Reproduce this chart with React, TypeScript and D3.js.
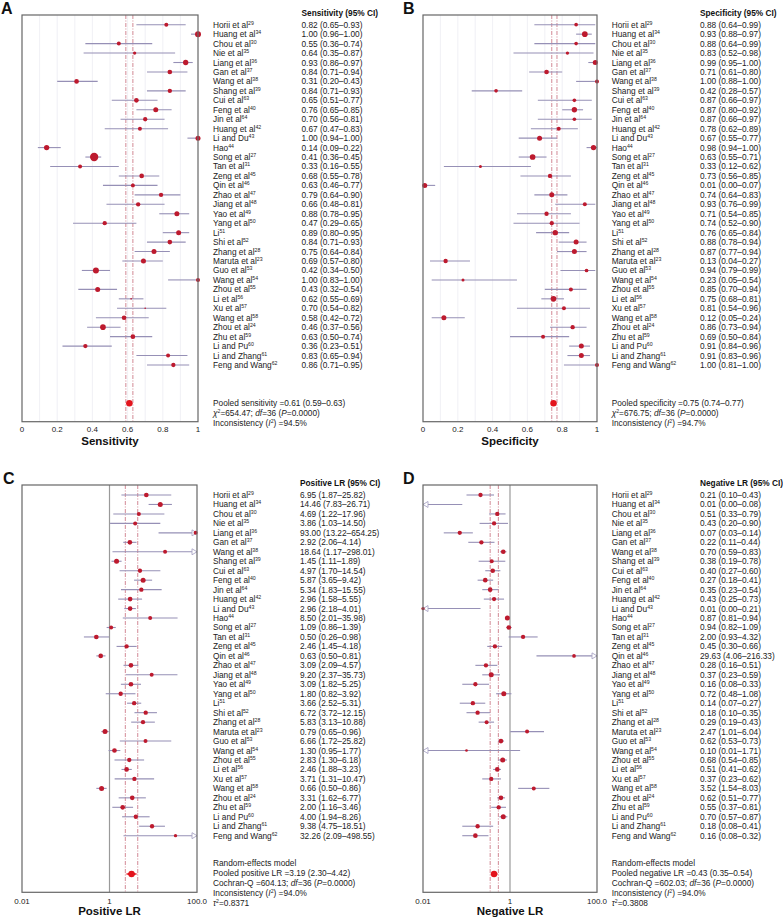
import React from 'react';
import * as d3 from 'd3';

const FONT = "'Liberation Sans', Arial, Helvetica, sans-serif";

const studies = [
  'Horii et al', 'Huang et al', 'Chou et al', 'Nie et al', 'Liang et al', 'Gan et al', 'Wang et al',
  'Shang et al', 'Cui et al', 'Feng et al', 'Jin et al', 'Huang et al', 'Li and Du', 'Hao', 'Song et al',
  'Tan et al', 'Zeng et al', 'Qin et al', 'Zhao et al', 'Jiang et al', 'Yao et al', 'Yang et al', 'Li',
  'Shi et al', 'Zhang et al', 'Maruta et al', 'Guo et al', 'Wang et al', 'Zhou et al', 'Li et al', 'Xu et al',
  'Wang et al', 'Zhou et al', 'Zhu et al', 'Li and Pu', 'Li and Zhang', 'Feng and Wang',
];
const refs = [
  '29', '34', '30', '35', '36', '37', '38', '39', '63', '40', '64', '42', '43', '44', '27', '31', '45', '46',
  '47', '48', '49', '50', '51', '52', '28', '23', '53', '54', '55', '56', '57', '58', '24', '59', '60', '61', '62',
];

// Sensitivity
const sensEst = [0.82, 1.0, 0.55, 0.64, 0.93, 0.84, 0.31, 0.84, 0.65, 0.76, 0.70, 0.67, 1.0, 0.14, 0.41, 0.33, 0.68, 0.63, 0.79, 0.66, 0.88, 0.47, 0.89, 0.84, 0.75, 0.69, 0.42, 1.0, 0.43, 0.62, 0.70, 0.58, 0.46, 0.63, 0.36, 0.83, 0.86];
const sensLo = [0.65, 0.96, 0.36, 0.35, 0.86, 0.71, 0.20, 0.71, 0.51, 0.65, 0.56, 0.47, 0.94, 0.09, 0.36, 0.16, 0.55, 0.46, 0.64, 0.48, 0.78, 0.29, 0.80, 0.71, 0.64, 0.57, 0.34, 0.83, 0.32, 0.55, 0.54, 0.42, 0.37, 0.50, 0.23, 0.65, 0.71];
const sensHi = [0.93, 1.0, 0.74, 0.87, 0.97, 0.94, 0.43, 0.93, 0.77, 0.85, 0.81, 0.83, 1.0, 0.22, 0.45, 0.55, 0.78, 0.77, 0.90, 0.81, 0.95, 0.65, 0.95, 0.93, 0.84, 0.80, 0.50, 1.0, 0.54, 0.69, 0.82, 0.72, 0.56, 0.74, 0.51, 0.94, 0.95];
const sensWeight = [12, 18, 12, 10, 16, 14, 14, 13, 14, 15, 13, 12, 15, 16, 25, 12, 14, 12, 13, 13, 15, 13, 15, 14, 15, 15, 18, 12, 15, 5, 5, 14, 17, 14, 13, 12, 13];
const sensPooled = [0.61, 0.59, 0.63];

// Specificity
const specEst = [0.88, 0.93, 0.88, 0.83, 0.99, 0.71, 1.0, 0.42, 0.87, 0.87, 0.87, 0.78, 0.67, 0.98, 0.63, 0.33, 0.73, 0.01, 0.74, 0.93, 0.71, 0.74, 0.76, 0.88, 0.87, 0.13, 0.94, 0.23, 0.85, 0.75, 0.81, 0.12, 0.86, 0.69, 0.91, 0.91, 1.0];
const specLo = [0.64, 0.88, 0.64, 0.52, 0.95, 0.61, 0.88, 0.28, 0.66, 0.80, 0.66, 0.62, 0.55, 0.94, 0.55, 0.12, 0.56, 0.0, 0.64, 0.76, 0.54, 0.52, 0.65, 0.78, 0.77, 0.04, 0.79, 0.05, 0.70, 0.68, 0.54, 0.05, 0.73, 0.50, 0.84, 0.83, 0.81];
const specHi = [0.99, 0.97, 0.99, 0.98, 1.0, 0.80, 1.0, 0.57, 0.97, 0.92, 0.97, 0.89, 0.77, 1.0, 0.71, 0.62, 0.85, 0.07, 0.83, 0.99, 0.85, 0.90, 0.84, 0.94, 0.94, 0.27, 0.99, 0.54, 0.94, 0.81, 0.96, 0.24, 0.94, 0.84, 0.96, 0.96, 1.0];
const specWeight = [11, 17, 11, 10, 15, 14, 12, 11, 11, 16, 11, 12, 15, 16, 17, 9, 13, 15, 15, 12, 13, 13, 16, 15, 15, 13, 11, 9, 12, 17, 12, 15, 13, 12, 15, 15, 12];
const specPooled = [0.75, 0.74, 0.77];

// Positive LR
const plrEst = [6.95, 14.46, 4.69, 3.86, 93.0, 2.92, 18.64, 1.45, 4.97, 5.87, 5.34, 2.96, 2.96, 8.5, 1.09, 0.5, 2.46, 0.63, 3.09, 9.2, 3.09, 1.8, 3.66, 6.72, 5.83, 0.79, 6.66, 1.3, 2.83, 2.46, 3.71, 0.66, 3.31, 2.0, 4.0, 9.38, 32.26];
const plrLo = [1.87, 7.83, 1.22, 1.03, 13.22, 2.06, 1.17, 1.11, 1.7, 3.65, 1.83, 1.58, 2.18, 2.01, 0.86, 0.26, 1.45, 0.5, 2.09, 2.37, 1.82, 0.82, 2.52, 3.72, 3.13, 0.65, 1.72, 0.95, 1.3, 1.88, 1.31, 0.5, 1.62, 1.16, 1.94, 4.75, 2.09];
const plrHi = [25.82, 26.71, 17.96, 14.5, 654.25, 4.14, 298.01, 1.89, 14.54, 9.42, 15.55, 5.55, 4.01, 35.98, 1.39, 0.98, 4.18, 0.81, 4.57, 35.73, 5.25, 3.92, 5.31, 12.15, 10.88, 0.96, 25.82, 1.77, 6.18, 3.23, 10.47, 0.86, 6.77, 3.46, 8.26, 18.51, 498.55];
const plrWeight = [14, 15, 12, 12, 12, 14, 12, 15, 13, 15, 13, 14, 14, 12, 12, 14, 13, 14, 14, 12, 14, 13, 13, 13, 13, 15, 12, 14, 13, 14, 13, 15, 14, 14, 13, 13, 10];
const plrPooled = [3.19, 2.3, 4.42];

// Negative LR
const nlrEst = [0.21, 0.01, 0.51, 0.43, 0.07, 0.22, 0.7, 0.38, 0.4, 0.27, 0.35, 0.43, 0.01, 0.87, 0.94, 2.0, 0.45, 29.63, 0.28, 0.37, 0.16, 0.72, 0.14, 0.18, 0.29, 2.47, 0.62, 0.1, 0.68, 0.51, 0.37, 3.52, 0.62, 0.55, 0.7, 0.18, 0.16];
const nlrLo = [0.1, 0.0, 0.33, 0.2, 0.03, 0.11, 0.59, 0.19, 0.27, 0.18, 0.23, 0.25, 0.0, 0.81, 0.82, 0.93, 0.3, 4.06, 0.16, 0.23, 0.08, 0.48, 0.07, 0.1, 0.19, 1.01, 0.53, 0.01, 0.54, 0.41, 0.23, 1.54, 0.51, 0.37, 0.57, 0.08, 0.08];
const nlrHi = [0.43, 0.08, 0.79, 0.9, 0.14, 0.44, 0.83, 0.78, 0.6, 0.41, 0.54, 0.73, 0.21, 0.94, 1.09, 4.32, 0.66, 216.33, 0.51, 0.59, 0.33, 1.08, 0.27, 0.35, 0.43, 6.04, 0.73, 1.71, 0.85, 0.62, 0.62, 8.03, 0.77, 0.81, 0.87, 0.41, 0.32];
const nlrWeight = [13, 0, 13, 13, 13, 13, 14, 12, 14, 14, 14, 13, 10, 15, 14, 13, 13, 11, 13, 15, 13, 15, 13, 13, 12, 12, 14, 8, 15, 14, 13, 12, 14, 13, 15, 13, 14];
const nlrPooled = [0.43, 0.35, 0.54];

const linTicks = [0, 0.2, 0.4, 0.6, 0.8, 1];
const linTickLabels = ['0', '0.2', '0.4', '0.6', '0.8', '1'];
const gridVals = [0.1, 0.2, 0.3, 0.4, 0.5, 0.6, 0.7, 0.8, 0.9];
const logTicks = [0.01, 1, 100];
const logTickLabels = ['0.01', '1', '100.0'];

type Seg = [string, string?];

const sensFooter: Seg[][] = [
  [['Pooled sensitivity =0.61 (0.59–0.63)']],
  [['χ', 'i'], ['2', 's'], ['=654.47; '], ['df', 'i'], ['=36 ('], ['P', 'i'], ['=0.0000)']],
  [['Inconsistency ('], ['I', 'i'], ['2', 's'], [') =94.5%']],
];
const specFooter: Seg[][] = [
  [['Pooled specificity =0.75 (0.74–0.77)']],
  [['χ', 'i'], ['2', 's'], ['=676.75; '], ['df', 'i'], ['=36 ('], ['P', 'i'], ['=0.0000)']],
  [['Inconsistency ('], ['I', 'i'], ['2', 's'], [') =94.7%']],
];
const plrFooter: Seg[][] = [
  [['Random-effects model']],
  [['Pooled positive LR =3.19 (2.30–4.42)']],
  [['Cochran-Q =604.13; '], ['df', 'i'], ['=36 ('], ['P', 'i'], ['=0.0000)']],
  [['Inconsistency ('], ['I', 'i'], ['2', 's'], [') =94.0%']],
  [['τ', 'i'], ['2', 's'], ['=0.8371']],
];
const nlrFooter: Seg[][] = [
  [['Random-effects model']],
  [['Pooled negative LR =0.43 (0.35–0.54)']],
  [['Cochran-Q =602.03; '], ['df', 'i'], ['=36 ('], ['P', 'i'], ['=0.0000)']],
  [['Inconsistency ('], ['I', 'i'], ['2', 's'], [') =94.0%']],
  [['τ', 'i'], ['2', 's'], ['=0.3808']],
];

const FS = 8.3;

function Rich({ x, y, segs, size = FS }: { x: number; y: number; segs: Seg[]; size?: number }) {
  let shifted = false;
  const parts = segs.map(([t, s], i) => {
    if (s === 's') {
      shifted = true;
      return <tspan key={i} dy={-3} fontSize={size * 0.62}>{t}</tspan>;
    }
    const dy = shifted ? 3 : undefined;
    shifted = false;
    return <tspan key={i} dy={dy} fontStyle={s === 'i' ? 'italic' : undefined}>{t}</tspan>;
  });
  return <text x={x} y={y} fontSize={size} fill="#222">{parts}</text>;
}

type PanelProps = {
  letter: string; letterX: number; letterY: number;
  x0: number; x1: number; y0: number; y1: number;
  rowY0: number; rowY1: number; pooledY: number;
  log: boolean;
  est: number[]; lo: number[]; hi: number[]; weight: number[]; pooled: number[];
  header: string; axisLabel: string;
  nameX: number; valX: number;
  footer: Seg[][]; footerY0: number;
  tickY: number; labelY: number;
};

function Panel(p: PanelProps) {
  const x = p.log
    ? d3.scaleLog().domain([0.01, 100]).range([p.x0, p.x1])
    : d3.scaleLinear().domain([0, 1]).range([p.x0, p.x1]);
  const X = (v: number) => (p.log ? x(Math.max(0.01, Math.min(100, v))) : x(v));
  const y = d3.scaleLinear().domain([0, studies.length - 1]).range([p.rowY0, p.rowY1]);
  const r = d3.scaleLinear().domain([0, 30]).range([0, 5]);
  const fmt = d3.format('.2f');
  const ticks = p.log ? logTicks : linTicks;
  const tickLabels = p.log ? logTickLabels : linTickLabels;
  const lineCol = '#9690b6';
  const arrowCol = '#aaa6c6';
  const dotCol = '#bd1a2e';
  const [pe, pl, ph] = p.pooled;
  const dashCol = '#cd7c89';
  return (
    <g>
      <text x={p.letterX} y={p.letterY} fontSize={16} fontWeight="bold" fill="#111">{p.letter}</text>
      {!p.log && gridVals.map((g, i) => (
        <line key={i} x1={x(g)} x2={x(g)} y1={p.y0} y2={p.y1} stroke="#ececf3" strokeWidth={0.8} />
      ))}
      {p.log && <line x1={x(1)} x2={x(1)} y1={p.y0} y2={p.y1} stroke="#9a9a9a" strokeWidth={1.2} />}
      {[pl, ph].map((v, i) => (
        <line key={i} x1={X(v)} x2={X(v)} y1={p.y0} y2={p.y1} stroke={dashCol} strokeWidth={0.9} strokeDasharray="4,1.5,1,1.5" />
      ))}
      {studies.map((s, i) => {
        const yy = y(i);
        const leftArrow = p.log && p.lo[i] <= 0.01;
        const rightArrow = p.log && p.hi[i] >= 100;
        const xl = X(p.lo[i]);
        const xh = X(p.hi[i]);
        return (
          <g key={i}>
            <line x1={xl} x2={xh} y1={yy} y2={yy} stroke={lineCol} strokeWidth={1.1} />
            {leftArrow && (
              <path d={`M${xl + 5},${yy - 3} L${xl},${yy} L${xl + 5},${yy + 3} Z`} fill="#fff" stroke={arrowCol} strokeWidth={0.9} />
            )}
            {rightArrow && (
              <path d={`M${xh - 5},${yy - 3} L${xh},${yy} L${xh - 5},${yy + 3} Z`} fill="#fff" stroke={arrowCol} strokeWidth={0.9} />
            )}
            {p.weight[i] > 0 && <circle cx={X(p.est[i])} cy={yy} r={r(p.weight[i])} fill={dotCol} />}
          </g>
        );
      })}
      <path d={`M${X(pl)},${p.pooledY} L${X(pe)},${p.pooledY - 2} L${X(ph)},${p.pooledY} L${X(pe)},${p.pooledY + 2} Z`} fill="#e3141d" />
      <circle cx={X(pe)} cy={p.pooledY} r={3.2} fill="#e3141d" />
      <rect x={p.x0} y={p.y0} width={p.x1 - p.x0} height={p.y1 - p.y0} fill="none" stroke="#666" strokeWidth={1.2} />
      {ticks.map((t, i) => (
        <text key={i} x={x(t)} y={p.tickY} fontSize={8} textAnchor="middle" fill="#222">{tickLabels[i]}</text>
      ))}
      <text x={(p.x0 + p.x1) / 2} y={p.labelY} fontSize={11.5} fontWeight="bold" textAnchor="middle" fill="#111">{p.axisLabel}</text>
      <text x={p.valX} y={p.rowY0 - 9} fontSize={FS} fontWeight="bold" fill="#111">{p.header}</text>
      {studies.map((s, i) => (
        <g key={i}>
          <text x={p.nameX} y={y(i) + 3} fontSize={FS} fill="#222">
            {s}
            <tspan dy={-3} fontSize={5.2}>{refs[i]}</tspan>
          </text>
          <text x={p.valX} y={y(i) + 3} fontSize={FS} fill="#222">
            {`${fmt(p.est[i])} (${fmt(p.lo[i])}–${fmt(p.hi[i])})`}
          </text>
        </g>
      ))}
      {p.footer.map((segs, i) => (
        <Rich key={i} x={p.nameX} y={p.footerY0 + i * 10 + 3} segs={segs} />
      ))}
    </g>
  );
}

export default function App() {
  const topY = { y0: 15, y1: 421.7, rowY0: 24.7, rowY1: 365, pooledY: 403.3, tickY: 432, labelY: 445 };
  const botY = { y0: 485, y1: 892.3, rowY0: 495, rowY1: 835.7, pooledY: 874, tickY: 903.5, labelY: 915 };
  return (
    <svg width={783} height={918} style={{ position: 'absolute', left: 0, top: 0, fontFamily: FONT, background: '#fff' }}>
      <rect x={0} y={0} width={783} height={918} fill="#fff" />
      <Panel letter="A" letterX={1} letterY={14} x0={22} x1={198} {...topY} log={false}
        est={sensEst} lo={sensLo} hi={sensHi} weight={sensWeight} pooled={sensPooled}
        header="Sensitivity (95% CI)" axisLabel="Sensitivity" nameX={213} valX={301.5}
        footer={sensFooter} footerY0={topY.pooledY} />
      <Panel letter="B" letterX={403} letterY={14} x0={423} x1={597} {...topY} log={false}
        est={specEst} lo={specLo} hi={specHi} weight={specWeight} pooled={specPooled}
        header="Specificity (95% CI)" axisLabel="Specificity" nameX={611.7} valX={700}
        footer={specFooter} footerY0={topY.pooledY} />
      <Panel letter="C" letterX={3} letterY={483.5} x0={22} x1={197} {...botY} log={true}
        est={plrEst} lo={plrLo} hi={plrHi} weight={plrWeight} pooled={plrPooled}
        header="Positive LR (95% CI)" axisLabel="Positive LR" nameX={213} valX={300}
        footer={plrFooter} footerY0={863.3} />
      <Panel letter="D" letterX={403} letterY={483.5} x0={423} x1={597} {...botY} log={true}
        est={nlrEst} lo={nlrLo} hi={nlrHi} weight={nlrWeight} pooled={nlrPooled}
        header="Negative LR (95% CI)" axisLabel="Negative LR" nameX={611.7} valX={700}
        footer={nlrFooter} footerY0={863.3} />
    </svg>
  );
}
